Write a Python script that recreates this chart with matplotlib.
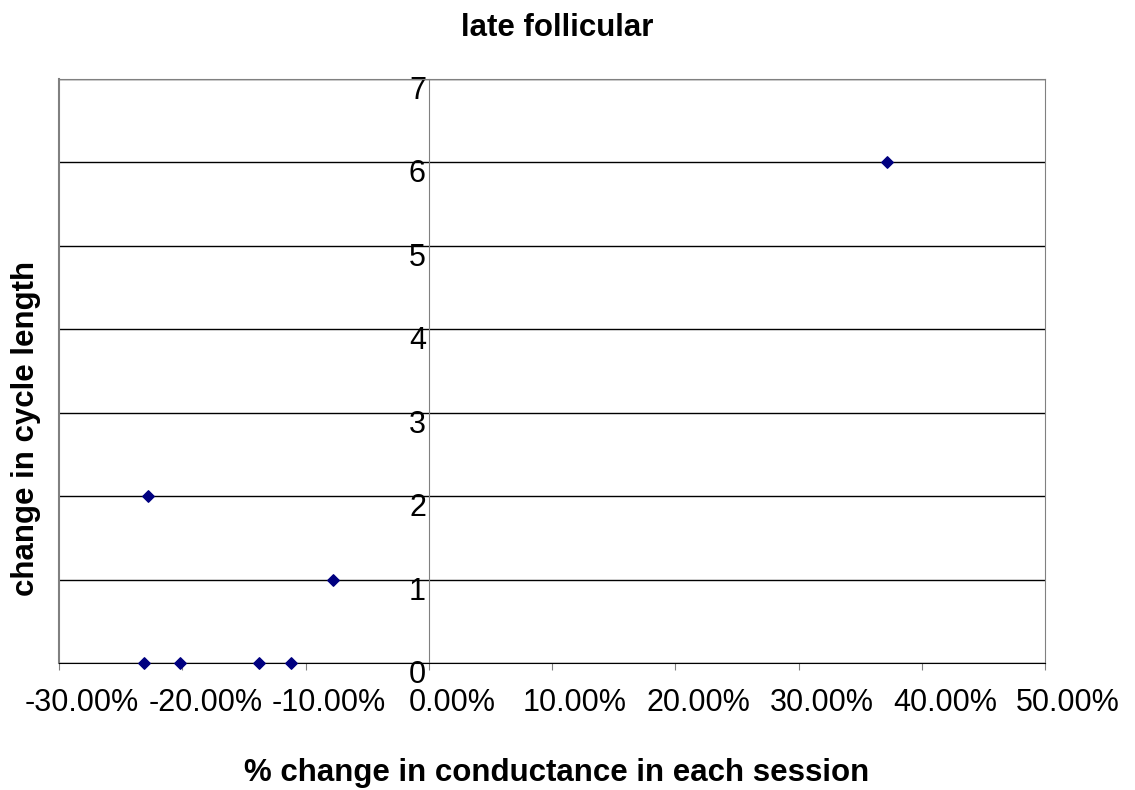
#Scatter plot: late follicular, change in cycle length vs % change in conductance
import matplotlib
matplotlib.use('Agg')
import matplotlib.pyplot as plt
from matplotlib.ticker import FuncFormatter
from matplotlib.transforms import ScaledTranslation

plt.rcParams['font.family'] = ['Liberation Sans', 'DejaVu Sans']

#Data
conductance_change = [-0.231, -0.202, -0.1375, -0.112, -0.228, -0.0777, 0.372]
cycle_length_change = [0, 0, 0, 0, 2, 1, 6]

x_ticks = [-0.3, -0.2, -0.1, 0.0, 0.1, 0.2, 0.3, 0.4, 0.5]
y_ticks = [0, 1, 2, 3, 4, 5, 6, 7]

fig = plt.figure(figsize=(11.35, 7.9), dpi=100)
ax = fig.add_axes([59/1135, 1-663/790, (1045-59)/1135, (663-79)/790])

#horizontal gridlines
for v in y_ticks:
    ax.axhline(v, color='black', lw=1, zorder=1)

ax.scatter(conductance_change, cycle_length_change, marker='D', s=34,
           color='#000080', zorder=3, clip_on=False)

ax.set_xlim(-0.3, 0.5)
ax.set_ylim(0, 7)

#y axis sits at x = 0 like in Excel
ax.spines['left'].set_position(('data', 0))
ax.spines['left'].set_color('#808080')
ax.spines['right'].set_color('#808080')
ax.spines['top'].set_color('#808080')
ax.spines['bottom'].set_color('black')
ax.axvline(-0.3, color='#808080', lw=1.5, clip_on=False, zorder=2)

ax.set_xticks(x_ticks)
ax.xaxis.set_major_formatter(FuncFormatter(lambda v, p: '%.2f%%' % (v*100)))
ax.tick_params(axis='x', direction='out', length=5, color='#808080',
               labelsize=22, pad=13)
#Excel puts the labels a bit right of the ticks
shift = ScaledTranslation(23/100, 0, fig.dpi_scale_trans)
for lab in ax.get_xticklabels():
    lab.set_transform(lab.get_transform() + shift)

ax.set_yticks(y_ticks)
ax.tick_params(axis='y', length=0, labelsize=22, pad=2)
up = ScaledTranslation(0, 3/100, fig.dpi_scale_trans)
for lab in ax.get_yticklabels():
    lab.set_verticalalignment('top')
    lab.set_transform(lab.get_transform() + up)

fig.text(557/1135, 1-36/790, 'late follicular', fontsize=22.5,
         fontweight='bold', ha='center', va='baseline')
fig.text(557/1135, 1-781/790, '% change in conductance in each session',
         fontsize=22.5, fontweight='bold', ha='center', va='baseline')
fig.text(26/1135, 1-428/790, 'change in cycle length', rotation=90,
         fontsize=22.5, fontweight='bold', ha='center', va='center')

fig.savefig('out.png', dpi=100)
